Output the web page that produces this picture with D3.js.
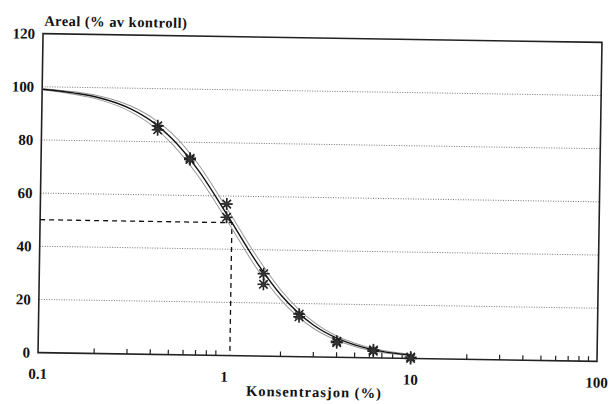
<!DOCTYPE html>
<html>
<head>
<meta charset="utf-8">
<script src="https://cdn.jsdelivr.net/npm/d3@7"></script>
<style>
  body { margin: 0; background: #fff; }
  text { font-family: "Liberation Serif", serif; font-weight: bold; fill: #111; }
</style>
</head>
<body>
<div id="chart"></div>
<script>
// measured points (duplicate tests per concentration)
var conc = [0.42, 0.42, 0.63, 0.63, 1.0, 1.0, 1.6, 1.6, 2.5, 2.5, 4.0, 4.0, 6.3, 6.3, 10, 10];
var area = [86, 84.5, 74, 73.5, 57, 52, 31, 27, 16, 15, 6, 5.5, 3, 2.5, 0.5, 0];

// fitted curve and its bounds
var fitX = [0.1, 0.15, 0.2, 0.3, 0.4, 0.5, 0.7, 1.0, 1.5, 2, 3, 4, 5, 7, 10];
var fitY = [99.1, 97.8, 96.3, 92.2, 87.1, 81.4, 69.5, 53.3, 34.2, 22.9, 11.9, 7.2, 4.8, 2.5, 1.3];
var upperY = [99.3, 98.3, 97.0, 93.3, 88.6, 83.3, 71.7, 55.5, 36.4, 24.7, 13.1, 8.0, 5.4, 2.9, 1.5];
var lowerY = [98.9, 97.3, 95.6, 91.1, 85.6, 79.5, 67.3, 51.1, 32.0, 21.1, 10.7, 6.4, 4.2, 2.1, 1.1];

var ec50 = 1.07;
var yTicks = [0, 20, 40, 60, 80, 100, 120];
var xTicks = [0.1, 1, 10, 100];
var xTickLabels = ["0.1", "1", "10", "100"];

var W = 611, H = 404;
var pLeft = 40.5, pRight = 599.5, pTop = 38, pBottom = 357;

var svg = d3.select("#chart").append("svg")
    .attr("width", W).attr("height", H);

// the scan is slightly tilted
var g = svg.append("g")
    .attr("transform", "rotate(0.9," + ((pLeft + pRight) / 2) + "," + ((pTop + pBottom) / 2) + ")");

var x = d3.scaleLog().domain([0.1, 100]).range([pLeft, pRight]);
var y = d3.scaleLinear().domain([0, 120]).range([pBottom, pTop]);

// dotted gridlines
g.selectAll(".grid")
    .data(yTicks.filter(d => d > 0 && d < 120))
    .enter().append("line")
    .attr("x1", pLeft).attr("x2", pRight)
    .attr("y1", d => y(d)).attr("y2", d => y(d))
    .attr("stroke", "#666")
    .attr("stroke-width", 0.9)
    .attr("stroke-dasharray", "1,1.5");

// frame
g.append("rect")
    .attr("x", pLeft).attr("y", pTop)
    .attr("width", pRight - pLeft).attr("height", pBottom - pTop)
    .attr("fill", "none")
    .attr("stroke", "#222")
    .attr("stroke-width", 1.6);

// minor ticks on the x axis (2..9 in each decade)
var minor = [];
[0.1, 1, 10].forEach(function(dec) {
    for (var k = 2; k <= 9; k++) minor.push(dec * k);
});
g.selectAll(".minor")
    .data(minor)
    .enter().append("line")
    .attr("x1", d => x(d)).attr("x2", d => x(d))
    .attr("y1", pBottom).attr("y2", pBottom - 5)
    .attr("stroke", "#222")
    .attr("stroke-width", 1.2);

// y labels
g.selectAll(".ylab")
    .data(yTicks)
    .enter().append("text")
    .attr("x", pLeft - 8)
    .attr("y", d => y(d))
    .attr("dy", "0.35em")
    .attr("text-anchor", "end")
    .attr("font-size", 15)
    .text(d => d);

// x labels
g.selectAll(".xlab")
    .data(xTicks)
    .enter().append("text")
    .attr("x", d => x(d))
    .attr("y", pBottom + 21)
    .attr("dy", "0.35em")
    .attr("text-anchor", "middle")
    .attr("font-size", 15)
    .text((d, i) => xTickLabels[i]);

// titles
g.append("text")
    .attr("x", pLeft + 1)
    .attr("y", pTop - 8)
    .attr("font-size", 14.5)
    .attr("letter-spacing", 0.45)
    .text("Areal (% av kontroll)");

g.append("text")
    .attr("x", (pLeft + pRight) / 2 - 3)
    .attr("y", pBottom + 40)
    .attr("text-anchor", "middle")
    .attr("font-size", 14.5)
    .attr("letter-spacing", 1)
    .text("Konsentrasjon (%)");

// EC50 dashed guide
g.append("path")
    .attr("d", "M" + x(0.1) + "," + y(50) + "H" + x(ec50) + "V" + y(0))
    .attr("fill", "none")
    .attr("stroke", "#111")
    .attr("stroke-width", 1.3)
    .attr("stroke-dasharray", "5,4");

// curves
var line = d3.line()
    .x(d => x(d[0]))
    .y(d => y(d[1]))
    .curve(d3.curveMonotoneX);

[upperY, lowerY].forEach(function(ys) {
    g.append("path")
        .datum(fitX.map((v, i) => [v, ys[i]]))
        .attr("d", line)
        .attr("fill", "none")
        .attr("stroke", "#999")
        .attr("stroke-width", 1);
});

g.append("path")
    .datum(fitX.map((v, i) => [v, fitY[i]]))
    .attr("d", line)
    .attr("fill", "none")
    .attr("stroke", "#111")
    .attr("stroke-width", 1.4);

// asterisk markers
var star = g.selectAll(".star")
    .data(conc.map((c, i) => [c, area[i]]))
    .enter().append("g")
    .attr("transform", d => "translate(" + x(d[0]) + "," + y(d[1]) + ")");

[0, 45, 90, 135].forEach(function(a) {
    var r = 6, t = a * Math.PI / 180;
    star.append("line")
        .attr("x1", -r * Math.cos(t)).attr("y1", -r * Math.sin(t))
        .attr("x2", r * Math.cos(t)).attr("y2", r * Math.sin(t))
        .attr("stroke", "#222")
        .attr("stroke-width", 1.6);
});
star.append("circle").attr("r", 2.6).attr("fill", "#333");
</script>
</body>
</html>
